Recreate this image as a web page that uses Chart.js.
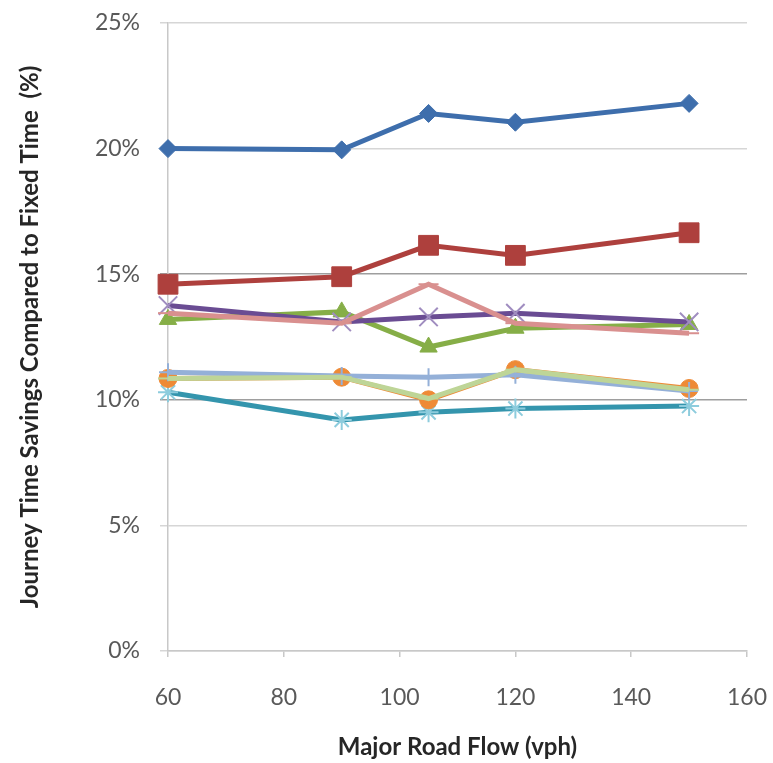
<!DOCTYPE html>
<html>
<head>
<meta charset="utf-8">
<script src="https://cdn.jsdelivr.net/npm/chart.js@4/dist/chart.umd.min.js"></script>
<style>
  html, body { margin: 0; padding: 0; background: #fff; }
  #wrap { width: 773px; height: 763px; position: relative; }
</style>
</head>
<body>
<div id="wrap"><canvas id="flowChart" width="773" height="763"></canvas></div>
<script>
/* ------------------------------------------------------------------ */
/*  Data                             */
/* ------------------------------------------------------------------ */

var FLOWS = [60, 90, 105, 120, 150];

var SAVINGS_BLUE      = [20.0, 19.95, 21.4, 21.05, 21.8];
var SAVINGS_RED       = [14.6, 14.9, 16.15, 15.75, 16.65];
var SAVINGS_GREEN     = [13.2, 13.5, 12.1, 12.85, 13.0];
var SAVINGS_PURPLE    = [13.75, 13.1, 13.3, 13.45, 13.1];
var SAVINGS_TEAL      = [10.3, 9.2, 9.5, 9.65, 9.75];
var SAVINGS_ORANGE    = [10.85, 10.9, 10.0, 11.2, 10.45];
var SAVINGS_LIGHTBLUE = [11.1, 10.95, 10.9, 11.0, 10.35];
var SAVINGS_PINK      = [13.45, 13.05, 14.6, 13.05, 12.65];
var SAVINGS_LIGHTGRN  = [10.85, 10.9, 10.05, 11.2, 10.4];

var Y_TICKS = [0, 5, 10, 15, 20, 25];

/* ------------------------------------------------------------------ */
/*  Series styling                                                    */
/* ------------------------------------------------------------------ */

var SERIES = [
  { values: SAVINGS_BLUE,      line: '#3E6EAC', mark: '#3E6EAC', style: 'rectRot',  r: 9 },
  { values: SAVINGS_RED,       line: '#AE403D', mark: '#AE403D', style: 'rect',     r: 14 },
  { values: SAVINGS_GREEN,     line: '#86AE47', mark: '#86AE47', style: 'triangle', r: 10 },
  { values: SAVINGS_PURPLE,    line: '#6A4C93', mark: '#A08DC0', style: 'crossRot', r: 13 },
  { values: SAVINGS_TEAL,      line: '#3495AD', mark: '#8DCCDD', style: 'star',     r: 10 },
  { values: SAVINGS_ORANGE,    line: '#EE8A36', mark: '#EE8A36', style: 'circle',   r: 9 },
  { values: SAVINGS_LIGHTBLUE, line: '#94B0D8', mark: '#94B0D8', style: 'cross',    r: 9 },
  { values: SAVINGS_PINK,      line: '#D9908F', mark: '#D9908F', style: 'line',     r: 10 },
  { values: SAVINGS_LIGHTGRN,  line: '#BED597', mark: '#BED597', style: 'line',     r: 10 },
];

function buildDatasets() {
  return SERIES.map(function (s, i) {
    var filled = s.style === 'rectRot' || s.style === 'rect' ||
                 s.style === 'triangle' || s.style === 'circle';
    return {
      label: 'Series ' + (i + 1),
      data: FLOWS.map(function (x, k) { return { x: x, y: s.values[k] }; }),
      showLine: true,
      clip: false,
      borderColor: s.line,
      borderWidth: 5,
      tension: 0,
      pointStyle: s.style,
      pointRadius: s.r,
      pointBackgroundColor: s.mark,
      pointBorderColor: s.mark,
      pointBorderWidth: filled ? 1 : 2,
      order: SERIES.length - i, // later series drawn on top, as in the original
    };
  });
}

/* ------------------------------------------------------------------ */
/*  Chart                                                             */
/* ------------------------------------------------------------------ */

var TICK_FONT = { family: 'Lato, "Open Sans", sans-serif', size: 23 };
var TITLE_FONT = { family: 'Lato, "Open Sans", sans-serif', size: 24, weight: 'bold' };

// keep the plot box exactly where the layout padding puts it
function noLabelPadding(scale) {
  scale.paddingTop = 0;
  scale.paddingBottom = 0;
  scale.paddingLeft = 0;
  scale.paddingRight = 0;
}

new Chart(document.getElementById('flowChart').getContext('2d'), {
  type: 'scatter',
  data: { datasets: buildDatasets() },
  options: {
    responsive: false,
    animation: false,
    layout: { padding: { top: 23, right: 26, left: 0, bottom: 0 } },
    plugins: {
      legend: { display: false },
      tooltip: { enabled: false },
    },
    scales: {
      x: {
        type: 'linear',
        min: 60,
        max: 160,
        border: { color: '#C8C8C8', width: 1.5 },
        grid: { drawOnChartArea: false, drawTicks: true, tickLength: 6, color: '#C8C8C8', lineWidth: 1.5 },
        ticks: { stepSize: 20, color: '#595959', font: TICK_FONT, padding: 27, maxRotation: 0 },
        title: {
          display: true,
          text: 'Major Road Flow (vph)',
          color: '#262626',
          font: TITLE_FONT,
          padding: { top: 0, bottom: 1 },
        },
        afterFit: function (scale) { scale.height = 112; noLabelPadding(scale); },
      },
      y: {
        type: 'linear',
        min: 0,
        max: 25,
        border: { color: '#C8C8C8', width: 1.5 },
        grid: {
          drawTicks: true,
          tickLength: 8,
          lineWidth: 1.5,
          color: function (ctx) {
            var v = ctx.tick ? ctx.tick.value : 0;
            return (v === 10 || v === 15) ? '#9E9E9E' : '#D6D6D6';
          },
        },
        afterBuildTicks: function (scale) {
          scale.ticks = Y_TICKS.map(function (v) { return { value: v }; });
        },
        ticks: {
          color: '#595959',
          font: TICK_FONT,
          padding: 20,
          callback: function (v) { return v + '%'; },
        },
        title: {
          display: true,
          text: 'Journey Time Savings Compared to Fixed Time  (%)',
          color: '#262626',
          font: TITLE_FONT,
          padding: { top: 16, bottom: 0 },
        },
        afterFit: function (scale) { scale.width = 168; noLabelPadding(scale); },
      },
    },
  },
});
</script>
</body>
</html>
